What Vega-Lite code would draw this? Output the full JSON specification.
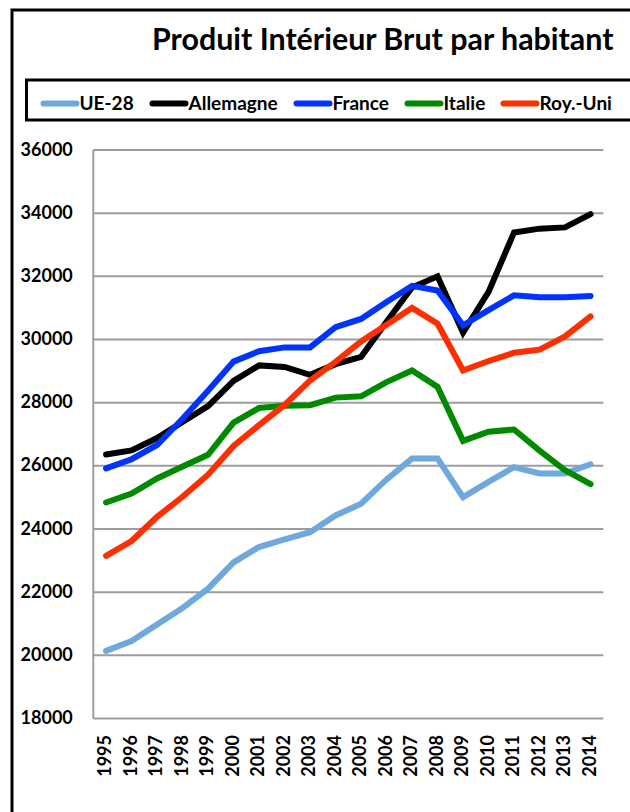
{
  "$schema": "https://vega.github.io/schema/vega-lite/v6.json",
  "width": 640,
  "height": 830,
  "autosize": {"type": "none"},
  "padding": {"left": 12, "top": 10, "right": 0, "bottom": 0},
  "background": "white",
  "config": {
    "view": {"stroke": "black", "strokeWidth": 3},
    "font": "Lato",
    "axis": {"labelFont": "Lato", "labelFontSize": 18, "labelFontWeight": "bold", "labelColor": "black", "grid": false, "domain": false, "ticks": false, "title": null}
  },
  "title": {"text": "Produit Intérieur Brut par habitant", "anchor": "start", "frame": "group", "dx": 140, "offset": -70, "baseline": "alphabetic", "font": "Lato", "fontSize": 30.4, "fontWeight": "bold", "color": "black"},
  "datasets": {
    "grille": [{"v": 18000}, {"v": 20000}, {"v": 22000}, {"v": 24000}, {"v": 26000}, {"v": 28000}, {"v": 30000}, {"v": 32000}, {"v": 34000}, {"v": 36000}],
    "series": [
      {"annee": "1995", "pays": "UE-28", "pib": 20140}, {"annee": "1996", "pays": "UE-28", "pib": 20450}, {"annee": "1997", "pays": "UE-28", "pib": 20980}, {"annee": "1998", "pays": "UE-28", "pib": 21500}, {"annee": "1999", "pays": "UE-28", "pib": 22110},
      {"annee": "2000", "pays": "UE-28", "pib": 22940}, {"annee": "2001", "pays": "UE-28", "pib": 23430}, {"annee": "2002", "pays": "UE-28", "pib": 23670}, {"annee": "2003", "pays": "UE-28", "pib": 23900}, {"annee": "2004", "pays": "UE-28", "pib": 24430},
      {"annee": "2005", "pays": "UE-28", "pib": 24800}, {"annee": "2006", "pays": "UE-28", "pib": 25570}, {"annee": "2007", "pays": "UE-28", "pib": 26230}, {"annee": "2008", "pays": "UE-28", "pib": 26230}, {"annee": "2009", "pays": "UE-28", "pib": 25010},
      {"annee": "2010", "pays": "UE-28", "pib": 25490}, {"annee": "2011", "pays": "UE-28", "pib": 25960}, {"annee": "2012", "pays": "UE-28", "pib": 25760}, {"annee": "2013", "pays": "UE-28", "pib": 25760}, {"annee": "2014", "pays": "UE-28", "pib": 26050},
      {"annee": "1995", "pays": "Allemagne", "pib": 26360}, {"annee": "1996", "pays": "Allemagne", "pib": 26490}, {"annee": "1997", "pays": "Allemagne", "pib": 26880}, {"annee": "1998", "pays": "Allemagne", "pib": 27390}, {"annee": "1999", "pays": "Allemagne", "pib": 27890},
      {"annee": "2000", "pays": "Allemagne", "pib": 28690}, {"annee": "2001", "pays": "Allemagne", "pib": 29180}, {"annee": "2002", "pays": "Allemagne", "pib": 29130}, {"annee": "2003", "pays": "Allemagne", "pib": 28880}, {"annee": "2004", "pays": "Allemagne", "pib": 29220},
      {"annee": "2005", "pays": "Allemagne", "pib": 29450}, {"annee": "2006", "pays": "Allemagne", "pib": 30560}, {"annee": "2007", "pays": "Allemagne", "pib": 31650}, {"annee": "2008", "pays": "Allemagne", "pib": 32000}, {"annee": "2009", "pays": "Allemagne", "pib": 30220},
      {"annee": "2010", "pays": "Allemagne", "pib": 31510}, {"annee": "2011", "pays": "Allemagne", "pib": 33390}, {"annee": "2012", "pays": "Allemagne", "pib": 33510}, {"annee": "2013", "pays": "Allemagne", "pib": 33550}, {"annee": "2014", "pays": "Allemagne", "pib": 33970},
      {"annee": "1995", "pays": "France", "pib": 25920}, {"annee": "1996", "pays": "France", "pib": 26210}, {"annee": "1997", "pays": "France", "pib": 26660}, {"annee": "1998", "pays": "France", "pib": 27490}, {"annee": "1999", "pays": "France", "pib": 28380},
      {"annee": "2000", "pays": "France", "pib": 29300}, {"annee": "2001", "pays": "France", "pib": 29630}, {"annee": "2002", "pays": "France", "pib": 29750}, {"annee": "2003", "pays": "France", "pib": 29750}, {"annee": "2004", "pays": "France", "pib": 30390},
      {"annee": "2005", "pays": "France", "pib": 30650}, {"annee": "2006", "pays": "France", "pib": 31190}, {"annee": "2007", "pays": "France", "pib": 31700}, {"annee": "2008", "pays": "France", "pib": 31550}, {"annee": "2009", "pays": "France", "pib": 30450},
      {"annee": "2010", "pays": "France", "pib": 30930}, {"annee": "2011", "pays": "France", "pib": 31400}, {"annee": "2012", "pays": "France", "pib": 31340}, {"annee": "2013", "pays": "France", "pib": 31340}, {"annee": "2014", "pays": "France", "pib": 31380},
      {"annee": "1995", "pays": "Italie", "pib": 24840}, {"annee": "1996", "pays": "Italie", "pib": 25125}, {"annee": "1997", "pays": "Italie", "pib": 25600}, {"annee": "1998", "pays": "Italie", "pib": 25980}, {"annee": "1999", "pays": "Italie", "pib": 26350},
      {"annee": "2000", "pays": "Italie", "pib": 27370}, {"annee": "2001", "pays": "Italie", "pib": 27830}, {"annee": "2002", "pays": "Italie", "pib": 27900}, {"annee": "2003", "pays": "Italie", "pib": 27920}, {"annee": "2004", "pays": "Italie", "pib": 28160},
      {"annee": "2005", "pays": "Italie", "pib": 28200}, {"annee": "2006", "pays": "Italie", "pib": 28650}, {"annee": "2007", "pays": "Italie", "pib": 29020}, {"annee": "2008", "pays": "Italie", "pib": 28500}, {"annee": "2009", "pays": "Italie", "pib": 26790},
      {"annee": "2010", "pays": "Italie", "pib": 27080}, {"annee": "2011", "pays": "Italie", "pib": 27150}, {"annee": "2012", "pays": "Italie", "pib": 26480}, {"annee": "2013", "pays": "Italie", "pib": 25860}, {"annee": "2014", "pays": "Italie", "pib": 25420},
      {"annee": "1995", "pays": "Roy.-Uni", "pib": 23150}, {"annee": "1996", "pays": "Roy.-Uni", "pib": 23620}, {"annee": "1997", "pays": "Roy.-Uni", "pib": 24385}, {"annee": "1998", "pays": "Roy.-Uni", "pib": 25020}, {"annee": "1999", "pays": "Roy.-Uni", "pib": 25720},
      {"annee": "2000", "pays": "Roy.-Uni", "pib": 26630}, {"annee": "2001", "pays": "Roy.-Uni", "pib": 27290}, {"annee": "2002", "pays": "Roy.-Uni", "pib": 27930}, {"annee": "2003", "pays": "Roy.-Uni", "pib": 28700}, {"annee": "2004", "pays": "Roy.-Uni", "pib": 29290},
      {"annee": "2005", "pays": "Roy.-Uni", "pib": 29940}, {"annee": "2006", "pays": "Roy.-Uni", "pib": 30470}, {"annee": "2007", "pays": "Roy.-Uni", "pib": 31000}, {"annee": "2008", "pays": "Roy.-Uni", "pib": 30500}, {"annee": "2009", "pays": "Roy.-Uni", "pib": 29020},
      {"annee": "2010", "pays": "Roy.-Uni", "pib": 29320}, {"annee": "2011", "pays": "Roy.-Uni", "pib": 29580}, {"annee": "2012", "pays": "Roy.-Uni", "pib": 29680}, {"annee": "2013", "pays": "Roy.-Uni", "pib": 30100}, {"annee": "2014", "pays": "Roy.-Uni", "pib": 30730}
    ]
  },
  "layer": [
    {
      "data": {"name": "grille"},
      "mark": {"type": "rule", "color": "#9d9d9d", "strokeWidth": 2},
      "encoding": {
        "x": {"datum": "1995", "type": "ordinal", "bandPosition": 0},
        "x2": {"datum": "2014", "bandPosition": 1},
        "y": {"field": "v", "type": "quantitative"}
      }
    },
    {
      "data": {"name": "grille"},
      "transform": [{"filter": "datum.v == 18000"}],
      "mark": {"type": "rule", "color": "#9d9d9d", "strokeWidth": 2},
      "encoding": {
        "x": {"datum": "1995", "type": "ordinal", "bandPosition": 0},
        "y": {"datum": 18000, "type": "quantitative"},
        "y2": {"datum": 36000}
      }
    },
    {
      "data": {"name": "series"},
      "mark": {"type": "line", "strokeWidth": 6, "strokeCap": "round", "strokeJoin": "miter"},
      "encoding": {
        "x": {
          "field": "annee", "type": "ordinal",
          "scale": {"type": "band", "paddingInner": 0, "paddingOuter": 0, "range": [81.3, 591.3]},
          "axis": {"orient": "bottom", "offset": -121.5, "labelAngle": -90, "labelPadding": 16, "title": null}
        },
        "y": {
          "field": "pib", "type": "quantitative",
          "scale": {"domain": [14153, 40433], "nice": false, "zero": false},
          "axis": {"values": [18000, 20000, 22000, 24000, 26000, 28000, 30000, 32000, 34000, 36000], "format": "d", "offset": -81.3, "labelPadding": 21, "title": null}
        },
        "color": {
          "field": "pays", "type": "nominal",
          "scale": {"domain": ["UE-28", "Allemagne", "France", "Italie", "Roy.-Uni"], "range": ["#6fa8dc", "#000000", "#0033ff", "#008a00", "#ff2e00"]},
          "legend": {
            "orient": "none", "legendX": 14.5, "legendY": 70, "direction": "horizontal", "columns": 5, "gridAlign": "none",
            "columnPadding": 5, "title": null, "strokeColor": "black", "fillColor": "white", "padding": 4,
            "symbolType": "stroke", "symbolSize": 1089, "symbolStrokeWidth": 6, "symbolOffset": 10, "labelOffset": 0,
            "labelFont": "Lato", "labelFontSize": 19, "labelFontWeight": "bold", "labelColor": "black", "labelLimit": 300,
            "labelExpr": "datum.label == 'Roy.-Uni' ? 'Roy.-Uni\u2800\u2800\u2800' : datum.label",
            "encode": {"legend": {"update": {"strokeWidth": {"value": 3}}}, "symbols": {"update": {"strokeCap": {"value": "round"}}}}
          }
        }
      }
    }
  ]
}
